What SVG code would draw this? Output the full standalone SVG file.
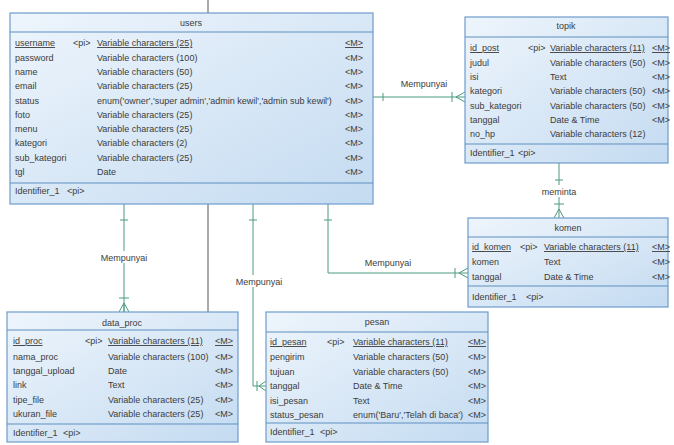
<svg xmlns="http://www.w3.org/2000/svg" width="674" height="445" viewBox="0 0 674 445">
<defs>
<linearGradient id="g" x1="0" y1="0" x2="1" y2="1">
<stop offset="0" stop-color="#eef5fc"/>
<stop offset="1" stop-color="#c4dbf1"/>
</linearGradient>
<style>
.box{fill:url(#g);stroke:#6f9ccb;stroke-width:1.2}
.sep{stroke:#5f8fbf;stroke-width:1.2}
text{font-family:"Liberation Sans",Arial,sans-serif;font-size:9px;fill:#3c3c3c}
.h{text-anchor:middle}
.u{text-decoration:underline}
.c{fill:none;stroke:#4a9a80;stroke-width:1}
.k{fill:none;stroke:#555;stroke-width:1}
.lb{fill:#fff}
.l{text-anchor:middle}
</style>
</defs>
<rect width="674" height="445" fill="#fff"/>

<g id="connectors">
<path class="k" d="M208,0V13M208,204V312"/>
<!-- users - data_proc -->
<path class="c" d="M124,204V312M120,220H128M119,298H129M124,303L119,312M124,303V312M124,303L129,312"/>
<rect class="lb" x="98" y="251" width="52" height="12"/>
<text class="l" x="124" y="261">Mempunyai</text>
<!-- users - pesan -->
<path class="c" d="M253,204V386H266M249,220H257M257,381V391M259,386L266,381M259,386L266,391"/>
<rect class="lb" x="233" y="275" width="52" height="12"/>
<text class="l" x="259" y="285">Mempunyai</text>
<!-- users - komen -->
<path class="c" d="M328,204V273H468M324,220H332M455,268V278M459,273L468,268M459,273L468,278"/>
<text class="l" x="388" y="266">Mempunyai</text>
<!-- users - topik -->
<path class="c" d="M373,97H465M383,93V101M452,92V102M456,97L465,92M456,97L465,102"/>
<text class="l" x="424" y="87">Mempunyai</text>
<!-- topik - komen -->
<path class="c" d="M559,163V218M555,180H563M554,204H564M559,209L554,218M559,209L564,218"/>
<rect class="lb" x="539" y="185" width="40" height="12"/>
<text class="l" x="559" y="195">meminta</text>
</g>

<g id="users">
<rect class="box" x="10" y="13" width="363" height="191"/>
<line class="sep" x1="10" y1="32" x2="373" y2="32"/>
<line class="sep" x1="10" y1="183" x2="373" y2="183"/>
<text class="h" x="191" y="26">users</text>
<text class="u" x="15" y="46">username</text><text x="73" y="46">&lt;pi&gt;</text><text class="u" x="97" y="46">Variable characters (25)</text><text class="u" x="345" y="46">&lt;M&gt;</text>
<text x="15" y="61">password</text><text x="97" y="61">Variable characters (100)</text><text x="345" y="61">&lt;M&gt;</text>
<text x="15" y="75">name</text><text x="97" y="75">Variable characters (50)</text><text x="345" y="75">&lt;M&gt;</text>
<text x="15" y="89">email</text><text x="97" y="89">Variable characters (25)</text><text x="345" y="89">&lt;M&gt;</text>
<text x="15" y="104">status</text><text x="97" y="104">enum('owner','super admin','admin kewil','admin sub kewil')</text><text x="345" y="104">&lt;M&gt;</text>
<text x="15" y="118">foto</text><text x="97" y="118">Variable characters (25)</text><text x="345" y="118">&lt;M&gt;</text>
<text x="15" y="132">menu</text><text x="97" y="132">Variable characters (25)</text><text x="345" y="132">&lt;M&gt;</text>
<text x="15" y="146">kategori</text><text x="97" y="146">Variable characters (2)</text><text x="345" y="146">&lt;M&gt;</text>
<text x="15" y="161">sub_kategori</text><text x="97" y="161">Variable characters (25)</text><text x="345" y="161">&lt;M&gt;</text>
<text x="15" y="175">tgl</text><text x="97" y="175">Date</text><text x="345" y="175">&lt;M&gt;</text>
<text x="15" y="194">Identifier_1</text><text x="67" y="194">&lt;pi&gt;</text>
</g>

<g id="topik">
<rect class="box" x="465" y="17" width="203" height="146"/>
<line class="sep" x1="465" y1="37" x2="668" y2="37"/>
<line class="sep" x1="465" y1="144" x2="668" y2="144"/>
<text class="h" x="566" y="29">topik</text>
<text class="u" x="470" y="51">id_post</text><text x="528" y="51">&lt;pi&gt;</text><text class="u" x="550" y="51">Variable characters (11)</text><text class="u" x="652" y="51">&lt;M&gt;</text>
<text x="470" y="66">judul</text><text x="550" y="66">Variable characters (50)</text><text x="652" y="66">&lt;M&gt;</text>
<text x="470" y="80">isi</text><text x="550" y="80">Text</text><text x="652" y="80">&lt;M&gt;</text>
<text x="470" y="94">kategori</text><text x="550" y="94">Variable characters (50)</text><text x="652" y="94">&lt;M&gt;</text>
<text x="470" y="109">sub_kategori</text><text x="550" y="109">Variable characters (50)</text><text x="652" y="109">&lt;M&gt;</text>
<text x="470" y="123">tanggal</text><text x="550" y="123">Date &amp; Time</text><text x="652" y="123">&lt;M&gt;</text>
<text x="470" y="137">no_hp</text><text x="550" y="137">Variable characters (12)</text>
<text x="470" y="156">Identifier_1</text><text x="518" y="156">&lt;pi&gt;</text>
</g>

<g id="komen">
<rect class="box" x="468" y="218" width="200" height="89"/>
<line class="sep" x1="468" y1="237" x2="668" y2="237"/>
<line class="sep" x1="468" y1="286" x2="668" y2="286"/>
<text class="h" x="568" y="231">komen</text>
<text class="u" x="472" y="250">id_komen</text><text x="520" y="250">&lt;pi&gt;</text><text class="u" x="544" y="250">Variable characters (11)</text><text class="u" x="652" y="250">&lt;M&gt;</text>
<text x="472" y="265">komen</text><text x="544" y="265">Text</text><text x="652" y="265">&lt;M&gt;</text>
<text x="472" y="280">tanggal</text><text x="544" y="280">Date &amp; Time</text><text x="652" y="280">&lt;M&gt;</text>
<text x="472" y="300">Identifier_1</text><text x="526" y="300">&lt;pi&gt;</text>
</g>

<g id="data_proc">
<rect class="box" x="7" y="312" width="231" height="130"/>
<line class="sep" x1="7" y1="330" x2="238" y2="330"/>
<line class="sep" x1="7" y1="424" x2="238" y2="424"/>
<text class="h" x="122" y="326">data_proc</text>
<text class="u" x="13" y="344">id_proc</text><text x="85" y="344">&lt;pi&gt;</text><text class="u" x="108" y="344">Variable characters (11)</text><text class="u" x="215" y="344">&lt;M&gt;</text>
<text x="13" y="360">nama_proc</text><text x="108" y="360">Variable characters (100)</text><text x="215" y="360">&lt;M&gt;</text>
<text x="13" y="374">tanggal_upload</text><text x="108" y="374">Date</text><text x="215" y="374">&lt;M&gt;</text>
<text x="13" y="388">link</text><text x="108" y="388">Text</text><text x="215" y="388">&lt;M&gt;</text>
<text x="13" y="403">tipe_file</text><text x="108" y="403">Variable characters (25)</text><text x="215" y="403">&lt;M&gt;</text>
<text x="13" y="417">ukuran_file</text><text x="108" y="417">Variable characters (25)</text><text x="215" y="417">&lt;M&gt;</text>
<text x="13" y="436">Identifier_1</text><text x="63" y="436">&lt;pi&gt;</text>
</g>

<g id="pesan">
<rect class="box" x="266" y="312" width="222" height="130"/>
<line class="sep" x1="266" y1="332" x2="488" y2="332"/>
<line class="sep" x1="266" y1="423" x2="488" y2="423"/>
<text class="h" x="377" y="325">pesan</text>
<text class="u" x="270" y="345">id_pesan</text><text x="327" y="345">&lt;pi&gt;</text><text class="u" x="353" y="345">Variable characters (11)</text><text class="u" x="468" y="345">&lt;M&gt;</text>
<text x="270" y="360">pengirim</text><text x="353" y="360">Variable characters (50)</text><text x="468" y="360">&lt;M&gt;</text>
<text x="270" y="375">tujuan</text><text x="353" y="375">Variable characters (50)</text><text x="468" y="375">&lt;M&gt;</text>
<text x="270" y="389">tanggal</text><text x="353" y="389">Date &amp; Time</text><text x="468" y="389">&lt;M&gt;</text>
<text x="270" y="404">isi_pesan</text><text x="353" y="404">Text</text><text x="468" y="404">&lt;M&gt;</text>
<text x="270" y="418">status_pesan</text><text x="353" y="418">enum('Baru','Telah di baca')</text><text x="468" y="418">&lt;M&gt;</text>
<text x="270" y="435">Identifier_1</text><text x="320" y="435">&lt;pi&gt;</text>
</g>
</svg>
